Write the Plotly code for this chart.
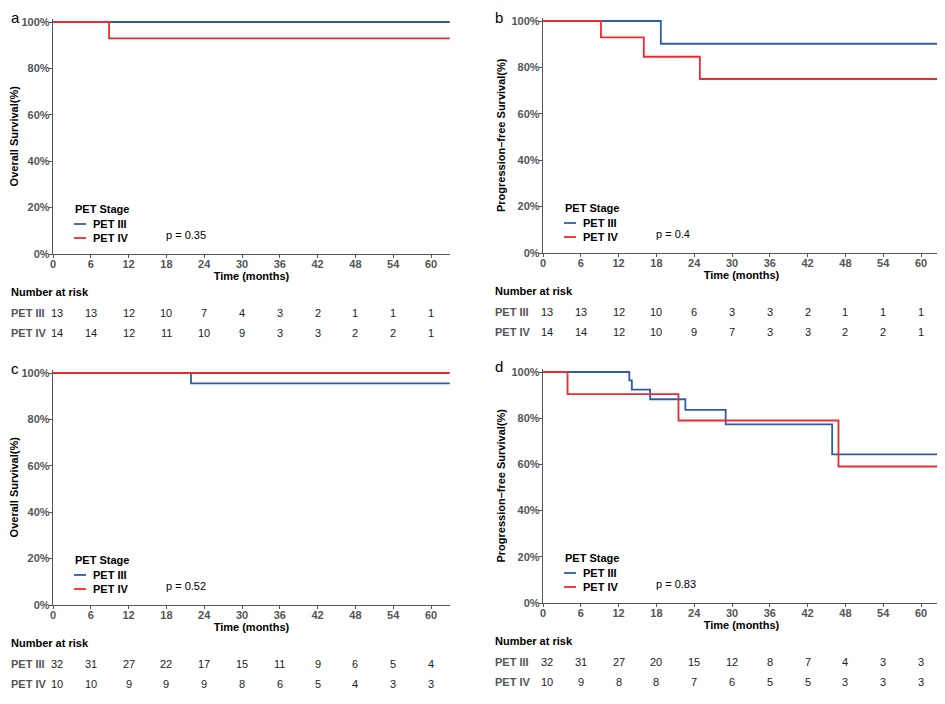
import plotly.graph_objects as go

# Kaplan-Meier step data (time in months, survival in %)
time_ticks = [0, 6, 12, 18, 24, 30, 36, 42, 48, 54, 60]
surv_ticks = [0, 20, 40, 60, 80, 100]

a_t3 = [0, 63]
a_s3 = [100, 100]
a_t4 = [0, 8.9, 63]
a_s4 = [100, 92.9, 92.9]
a_risk3 = [13, 13, 12, 10, 7, 4, 3, 2, 1, 1, 1]
a_risk4 = [14, 14, 12, 11, 10, 9, 3, 3, 2, 2, 1]

b_t3 = [0, 18.7, 63]
b_s3 = [100, 90.2, 90.2]
b_t4 = [0, 9.2, 16.0, 24.9, 63]
b_s4 = [100, 92.9, 84.6, 75.0, 75.0]
b_risk3 = [13, 13, 12, 10, 6, 3, 3, 2, 1, 1, 1]
b_risk4 = [14, 14, 12, 10, 9, 7, 3, 3, 2, 2, 1]

c_t3 = [0, 21.9, 63]
c_s3 = [100, 95.5, 95.5]
c_t4 = [0, 63]
c_s4 = [100, 100]
c_risk3 = [32, 31, 27, 22, 17, 15, 11, 9, 6, 5, 4]
c_risk4 = [10, 10, 9, 9, 9, 8, 6, 5, 4, 3, 3]

d_t3 = [0, 13.7, 14.1, 17.0, 22.6, 29.0, 45.9, 63]
d_s3 = [100, 96.4, 92.4, 88.2, 83.6, 77.3, 64.3, 64.3]
d_t4 = [0, 3.9, 21.5, 46.9, 63]
d_s4 = [100, 90.4, 79.0, 59.1, 59.1]
d_risk3 = [32, 31, 27, 20, 15, 12, 8, 7, 4, 3, 3]
d_risk4 = [10, 9, 8, 8, 7, 6, 5, 5, 3, 3, 3]

p_values = ["p = 0.35", "p = 0.4", "p = 0.52", "p = 0.83"]
y_titles = ["Overall Survival(%)", "Progression\u2013free Survival(%)",
            "Overall Survival(%)", "Progression\u2013free Survival(%)"]
letters = ["a", "b", "c", "d"]
groups = ["PET III", "PET IV"]

BLUE = "#2E5DA6"
RED = "#EE2A2E"
GREY = "#555555"
FONT = "Liberation Sans, Arial, sans-serif"
W, H = 945, 704
OFF = 8  # the page body adds an 8px margin around the plot


def px(x):
    return (x - OFF) / W


def py(y):
    return 1 - (y - OFF) / H


# pixel anchors of each panel: left of x axis, y of 100%, y of 0%
panels = [
    dict(x0=53, y100=22, y0=254, curves=(a_t3, a_s3, a_t4, a_s4), risk=(a_risk3, a_risk4)),
    dict(x0=543, y100=21, y0=253, curves=(b_t3, b_s3, b_t4, b_s4), risk=(b_risk3, b_risk4)),
    dict(x0=53, y100=373, y0=605, curves=(c_t3, c_s3, c_t4, c_s4), risk=(c_risk3, c_risk4)),
    dict(x0=543, y100=372, y0=603, curves=(d_t3, d_s3, d_t4, d_s4), risk=(d_risk3, d_risk4)),
]

fig = go.Figure()
annotations = []
shapes = []
ymax = 101.5

for i, p in enumerate(panels):
    n = "" if i == 0 else str(i + 1)
    xa, ya = "x" + n, "y" + n
    t3, s3, t4, s4 = p["curves"]
    fig.add_trace(go.Scatter(x=t3, y=s3, mode="lines", line=dict(color=BLUE, width=1.8, shape="hv"),
                             xaxis=xa, yaxis=ya, showlegend=False, name=groups[0]))
    fig.add_trace(go.Scatter(x=t4, y=s4, mode="lines", line=dict(color=RED, width=1.8, shape="hv"),
                             xaxis=xa, yaxis=ya, showlegend=False, name=groups[1]))

    ppm = 6.3
    ypp = (p["y0"] - p["y100"]) / 100
    top = p["y0"] - ypp * ymax
    axis_font = dict(family=FONT, size=11, color=GREY)
    title_font = dict(family=FONT, size=11, color="black")
    fig.update_layout(**{
        "xaxis" + n: dict(domain=[px(p["x0"]), px(p["x0"] + 63 * ppm)], range=[0, 63],
                          anchor=ya, tickmode="array", tickvals=time_ticks,
                          ticktext=["<b>%d</b>" % t for t in time_ticks],
                          ticks="outside", ticklen=3, automargin=False, ticklabelstandoff=-3,
                          tickcolor=GREY, showline=True, linecolor=GREY, linewidth=1.3,
                          showgrid=False, zeroline=False, tickfont=axis_font,
                          title=dict(text="<b>Time (months)</b>", font=title_font, standoff=0)),
        "yaxis" + n: dict(domain=[py(p["y0"]), py(top)], range=[0, ymax],
                          anchor=xa, tickmode="array", tickvals=surv_ticks,
                          ticktext=["<b>%d%%</b>" % s for s in surv_ticks],
                          ticks="outside", ticklen=3, tickcolor=GREY, showline=True,
                          linecolor=GREY, linewidth=1.3, showgrid=False, zeroline=False,
                          tickfont=axis_font, automargin=False, ticklabelstandoff=-3,
                          title=dict(text="<b>" + y_titles[i] + "</b>", font=title_font, standoff=3)),
    })

    # p value
    annotations.append(dict(x=17.6, y=8.2, xref=xa, yref=ya, text=p_values[i], showarrow=False,
                            xanchor="left", yanchor="middle",
                            font=dict(family=FONT, size=11, color="black")))

    # legend drawn by hand (short key lines like the original)
    lx = p["x0"] + 20
    ly = p["y0"] - 45
    annotations.append(dict(x=px(lx), y=py(ly), xref="paper", yref="paper", text="<b>PET Stage</b>",
                            showarrow=False, xanchor="left", yanchor="middle",
                            font=dict(family=FONT, size=11, color="black")))
    for k, (g, col) in enumerate(zip(groups, [BLUE, RED])):
        yy = ly + 15 + 14 * k
        shapes.append(dict(type="line", xref="paper", yref="paper", x0=px(lx + 1), x1=px(lx + 13),
                           y0=py(yy), y1=py(yy), line=dict(color=col, width=1.8)))
        annotations.append(dict(x=px(lx + 18), y=py(yy), xref="paper", yref="paper",
                                text="<b>" + g + "</b>", showarrow=False, xanchor="left",
                                yanchor="middle", font=dict(family=FONT, size=11, color="black")))

    # panel letter (kept just inside the page edge)
    lab_x = max(p["x0"] - 50, OFF + 1)
    annotations.append(dict(x=px(lab_x), y=py(max(p["y100"] - 5, 17)), xref="paper", yref="paper",
                            text=letters[i], showarrow=False, xanchor="left", yanchor="middle",
                            font=dict(family=FONT, size=15, color="black")))

    # number at risk table
    ry = p["y0"] + 38
    annotations.append(dict(x=px(lab_x), y=py(ry), xref="paper", yref="paper",
                            text="<b>Number at risk</b>", showarrow=False, xanchor="left",
                            yanchor="middle", font=dict(family=FONT, size=11, color="black")))
    for k, row in enumerate(p["risk"]):
        yy = ry + 21 + 20 * k
        annotations.append(dict(x=px(lab_x), y=py(yy), xref="paper", yref="paper",
                                text="<b>" + groups[k] + "</b>", showarrow=False, xanchor="left",
                                yanchor="middle", font=dict(family=FONT, size=11, color=GREY)))
        for t, v in zip(time_ticks, row):
            annotations.append(dict(x=t + (0.6 if t == 0 else 0), y=py(yy), xref=xa, yref="paper",
                                    text=str(v), showarrow=False, xanchor="center",
                                    yanchor="middle",
                                    font=dict(family=FONT, size=11, color="#222222")))

fig.update_layout(
    width=W, height=H,
    margin=dict(l=0, r=0, t=0, b=0, autoexpand=False),
    plot_bgcolor="white", paper_bgcolor="white",
    annotations=annotations, shapes=shapes,
    showlegend=False,
)

fig.write_html("out.html")
